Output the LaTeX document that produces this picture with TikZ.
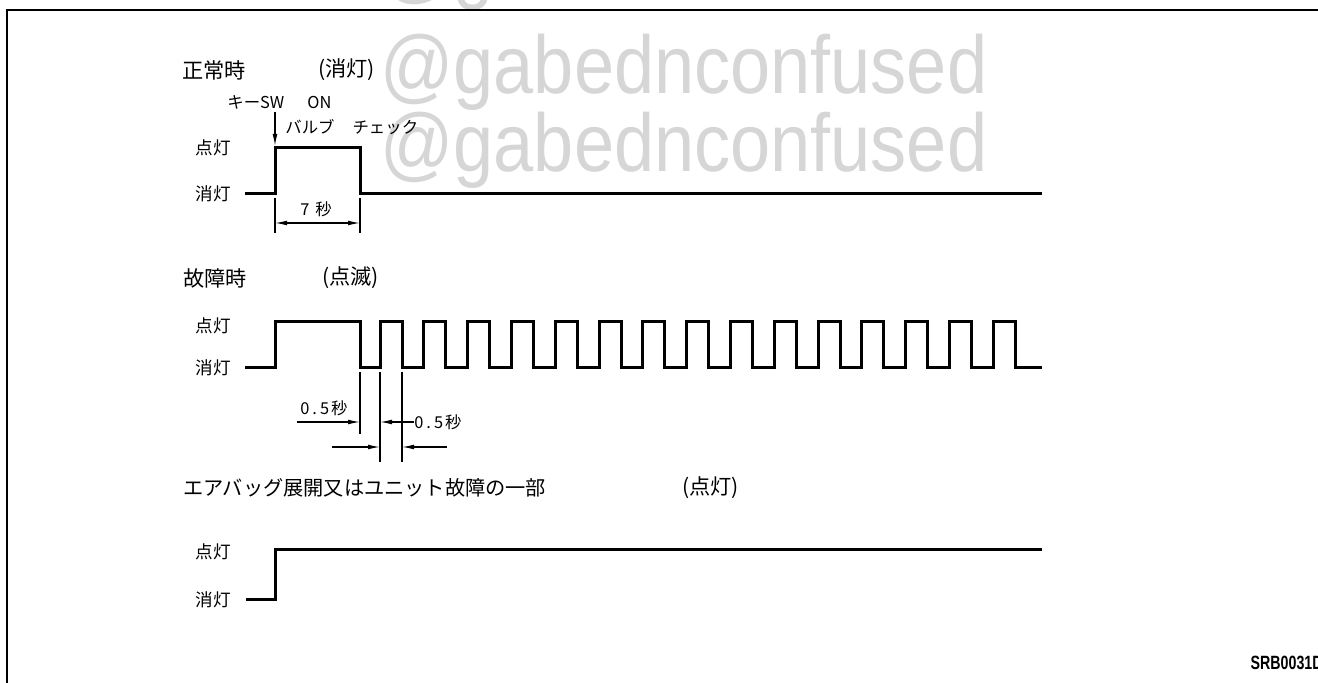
\documentclass[tikz,border=0pt]{standalone}
\usepackage{fontspec}
\usetikzlibrary{arrows.meta}
\newfontfamily\cjk{Noto Sans CJK JP}
\newfontfamily\wmfont{Liberation Sans}
\newfontfamily\codefont{Liberation Sans}
\begin{document}
\begin{tikzpicture}[x=0.5pt,y=-0.5pt,
  wave/.style={line width=1.5pt, line join=miter},
  thinline/.style={line width=0.6pt},
  dimarrow/.style={thinline, -{Latex[length=6pt,width=2.4pt]}},
  frameline/.style={line width=1pt},
  title/.style={font=\cjk\fontsize{10.6}{12}\selectfont, inner sep=0pt, anchor=west},
  lvl/.style={font=\cjk\fontsize{8.8}{10}\selectfont, inner sep=0pt, anchor=west},
  small/.style={font=\cjk\fontsize{8.2}{10}\selectfont, inner sep=0pt, anchor=west},
  wm/.style={font=\wmfont\fontsize{41}{44}\selectfont, text=black!16, inner sep=0pt, anchor=base west}]
\useasboundingbox (0,0) rectangle (1318,683);
% watermark
\node[wm] (wm0) at (380,-6) {\scalebox{0.88}[1]{@gabednconfused}};
\node[wm] (wm1) at (380,94) {\scalebox{0.88}[1]{@gabednconfused}};
\node[wm] (wm2) at (380,172) {\scalebox{0.88}[1]{@gabednconfused}};
% frame
\coordinate (ftr) at (1318,10);
\coordinate (ftl) at (7,10);
\coordinate (fbl) at (7,683);
\draw[frameline] (ftr) -- (ftl) -- (fbl);

% ---------- normal ----------
\node[title] (t1) at (182,70) {正常時};
\node[title] (t1b) at (318,70) {(消灯)};
\node[small] (key) at (227,102) {キーSW};
\node[small] (on) at (307,102) {ON};
\node[small] (bulb) at (285,127) {バルブ\kern9pt チェック};
\node[lvl] (on1) at (195,148) {点灯};
\node[lvl] (off1) at (195,194) {消灯};
\draw[wave] (245,194) -- (275,194) -- (275,148) -- (360,148) -- (360,194) -- (1042,194);
\coordinate (ka) at (275,112);
\coordinate (kb) at (275,146);
\draw[dimarrow] (ka) -- (kb);
\coordinate (e1a) at (275,198);
\coordinate (e1b) at (275,233);
\coordinate (e2a) at (360,198);
\coordinate (e2b) at (360,233);
\draw[thinline] (e1a) -- (e1b);
\draw[thinline] (e2a) -- (e2b);
\coordinate (d1a) at (275,223);
\coordinate (d1b) at (360,223);
\draw[thinline, {Latex[length=6pt,width=2.4pt]}-{Latex[length=6pt,width=2.4pt]}] (d1a) -- (d1b);
\node[small, anchor=center] (sev) at (316,209) {7\kern3pt 秒};

% ---------- failure ----------
\node[title] (t2) at (183,278) {故障時};
\node[title] (t2b) at (322,278) {(点滅)};
\node[lvl] (on2) at (195,326) {点灯};
\node[lvl] (off2) at (195,368) {消灯};
\draw[wave] (245,368) -- (275,368) -- (275,322) -- (360,322) -- (360,368)
  \foreach \k in {0,...,14}{ -- ({380+43.8*\k},368) -- ({380+43.8*\k},322) -- ({402+43.8*\k},322) -- ({402+43.8*\k},368)}
  -- (1042,368);
\coordinate (x1a) at (360,372);
\coordinate (x1b) at (360,434);
\coordinate (x2a) at (380,372);
\coordinate (x2b) at (380,462);
\coordinate (x3a) at (402,372);
\coordinate (x3b) at (402,462);
\draw[thinline] (x1a) -- (x1b);
\draw[thinline] (x2a) -- (x2b);
\draw[thinline] (x3a) -- (x3b);
\node[small] (h1) at (300,408) {0\kern1.5pt.\kern1.5pt5\kern1pt秒};
\node[small] (h2) at (414,422) {0\kern1.5pt.\kern1.5pt5\kern1pt秒};
\coordinate (r1s) at (297,422);
\coordinate (r1e) at (360,422);
\draw[dimarrow] (r1s) -- (r1e);
\coordinate (r1t) at (380,422);
\draw[dimarrow] (h2.west) -- (r1t);
\coordinate (r2s) at (332,447);
\coordinate (r2e) at (380,447);
\coordinate (r2u) at (447,447);
\coordinate (r2v) at (402,447);
\draw[dimarrow] (r2s) -- (r2e);
\draw[dimarrow] (r2u) -- (r2v);

% ---------- airbag ----------
\node[title, font=\cjk\fontsize{10.1}{12}\selectfont] (t3) at (183,488) {エアバッグ展開又はユニット故障の一部};
\node[title] (t3b) at (682,488) {(点灯)};
\node[lvl] (on3) at (195,552) {点灯};
\node[lvl] (off3) at (195,600) {消灯};
\draw[wave] (246,600) -- (275,600) -- (275,550) -- (1042,550);

\node[inner sep=0pt, anchor=east, font=\codefont\bfseries\fontsize{9.6}{11}\selectfont] (code) at (1323,663) {\scalebox{0.74}[1]{SRB0031D}};
\end{tikzpicture}
\end{document}
